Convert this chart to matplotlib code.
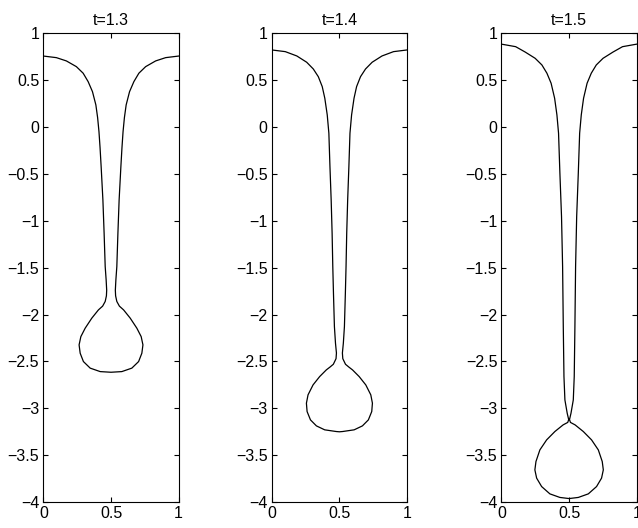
import numpy as np
import matplotlib
matplotlib.use("Agg")
import matplotlib.pyplot as plt

plt.rcParams['font.family'] = ['Liberation Sans', 'DejaVu Sans']

times = [1.3, 1.4, 1.5]

# left half of each interface (from the wall at x=0 down to the drop tip at x=0.5)
x_t13 = [0.0, 0.096, 0.170, 0.244, 0.294, 0.331, 0.363, 0.388, 0.401, 0.411,
         0.419, 0.427, 0.440, 0.449, 0.457, 0.464, 0.468, 0.466, 0.457, 0.438,
         0.407, 0.358, 0.309, 0.277, 0.264, 0.272, 0.296, 0.346, 0.420, 0.5]
y_t13 = [0.757, 0.740, 0.705, 0.644, 0.574, 0.484, 0.377, 0.236, 0.10, -0.05,
         -0.22, -0.421, -0.777, -1.132, -1.488, -1.63, -1.74, -1.80, -1.86, -1.91,
         -1.95, -2.038, -2.145, -2.235, -2.323, -2.412, -2.501, -2.571, -2.608, -2.615]

x_t14 = [0.0, 0.100, 0.185, 0.258, 0.307, 0.344, 0.373, 0.392, 0.410, 0.422,
         0.430, 0.439, 0.446, 0.451, 0.456, 0.463, 0.471, 0.478, 0.475, 0.455,
         0.430, 0.403, 0.354, 0.305, 0.268, 0.256, 0.261, 0.286, 0.330, 0.391,
         0.476, 0.5]
y_t14 = [0.822, 0.804, 0.758, 0.691, 0.619, 0.537, 0.431, 0.307, 0.129, -0.066,
         -0.421, -0.777, -1.132, -1.488, -1.772, -2.128, -2.306, -2.41, -2.47, -2.53,
         -2.56, -2.590, -2.661, -2.750, -2.856, -2.945, -3.034, -3.123, -3.187, -3.229,
         -3.247, -3.250]

x_t15 = [0.0, 0.105, 0.175, 0.249, 0.299, 0.336, 0.367, 0.393, 0.410, 0.422,
         0.432, 0.444, 0.452, 0.457, 0.462, 0.469, 0.486, 0.497, 0.490, 0.456,
         0.395, 0.334, 0.284, 0.255, 0.247, 0.260, 0.297, 0.358, 0.432, 0.5]
y_t15 = [0.884, 0.857, 0.800, 0.733, 0.662, 0.574, 0.467, 0.307, 0.129, -0.066,
         -0.493, -0.955, -1.488, -2.128, -2.661, -2.910, -3.052, -3.12, -3.15, -3.176,
         -3.247, -3.336, -3.443, -3.567, -3.656, -3.744, -3.834, -3.912, -3.950, -3.962]

profiles = [(x_t13, y_t13), (x_t14, y_t14), (x_t15, y_t15)]

yticks = [1, 0.5, 0, -0.5, -1, -1.5, -2, -2.5, -3, -3.5, -4]
ytick_labels = ['1', '0.5', '0', '\u22120.5', '\u22121', '\u22121.5', '\u22122',
                '\u22122.5', '\u22123', '\u22123.5', '\u22124']
xticks = [0, 0.5, 1]
xtick_labels = ['0', '0.5', '1']

fig = plt.figure(figsize=(6.38, 5.28), dpi=100)
lefts = [0.068, 0.426, 0.786]

for left, t, (xs, ys) in zip(lefts, times, profiles):
    ax = fig.add_axes([left, 0.049, 0.212, 0.888])
    xs = np.array(xs)
    ys = np.array(ys)
    # the interface is symmetric about x = 0.5, so draw the half and its mirror
    ax.plot(np.concatenate([xs, 1 - xs[::-1]]), np.concatenate([ys, ys[::-1]]),
            color='black', lw=0.9, solid_joinstyle='round')
    ax.set_xlim(0, 1)
    ax.set_ylim(-4, 1)
    ax.set_xticks(xticks)
    ax.set_xticklabels(xtick_labels)
    ax.set_yticks(yticks)
    ax.set_yticklabels(ytick_labels)
    ax.tick_params(direction='in', length=3.5, width=0.8, top=True, right=True,
                   labelsize=11.5, pad=3)
    for s in ax.spines.values():
        s.set_linewidth(0.8)
    ax.set_title('t=%.1f' % t, fontsize=11.5, pad=6)

fig.savefig('out.png', dpi=100)
